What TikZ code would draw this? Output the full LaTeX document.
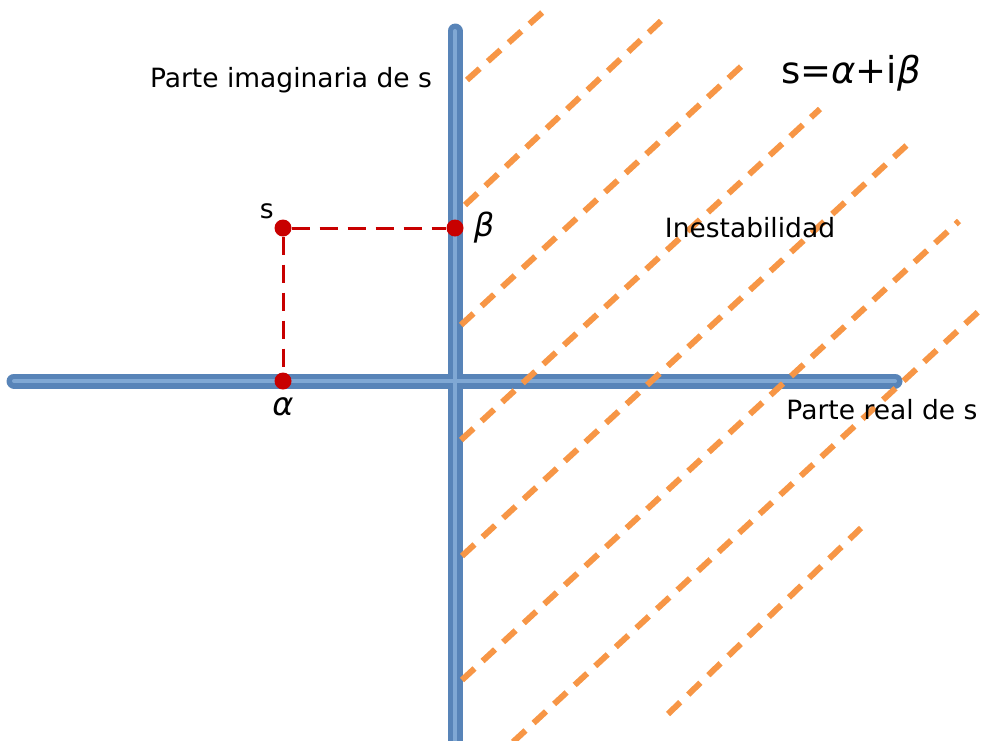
\documentclass[tikz,border=0pt]{standalone}
\usepackage{fontspec}
\setmainfont{DejaVu Sans}
\usepackage{tikz}
\usetikzlibrary{calc,positioning}

\definecolor{axisBlue}{RGB}{88,132,184}
\definecolor{axisLight}{RGB}{128,168,212}
\definecolor{hatchOrange}{RGB}{247,150,70}
\definecolor{pointRed}{RGB}{200,0,0}

\begin{document}
\begin{tikzpicture}[
    x=1pt, y=-1pt,
    % Styles
    axisLine/.style={line width=15pt, axisBlue, line cap=round},
    axisShine/.style={line width=4pt, axisLight, line cap=round},
    hatchLine/.style={line width=6pt, hatchOrange, dash pattern=on 17pt off 11pt},
    guideLine/.style={line width=3pt, pointRed, dash pattern=on 18pt off 10pt},
    dotNode/.style={circle, fill=pointRed, inner sep=0pt, minimum size=17pt},
    labelNode/.style={font=\fontsize{26.5}{30}\selectfont, inner sep=0pt},
    greekNode/.style={font=\fontsize{32}{36}\selectfont\itshape, inner sep=0pt}
]
\useasboundingbox (0,0) rectangle (982,740);

% ================= AXES =================
\coordinate (reLeft) at (14,381);
\coordinate (reRight) at (895,381);
\coordinate (imTop) at (455,31);
\coordinate (imBottom) at (455,748);
\draw[axisLine] (reLeft) -- (reRight);
\draw[axisLine] (imTop) -- (imBottom);
\draw[axisShine] (reLeft) -- (reRight);
\draw[axisShine] (imTop) -- (imBottom);

% ================= UNSTABLE HALF PLANE =================
\foreach \xa/\ya/\xb/\yb in {467/80/545/10, 465/205/661/21, 461/325/746/62,
    461/440/820/109, 462/556/907/145, 462/680/959/221, 513/742/978/312,
    668/714/861/528}
  \draw[hatchLine] (\xa,\ya) -- (\xb,\yb);

% ================= POINT s =================
\node[dotNode] (sPt) at (283,228) {};
\node[dotNode] (betaPt) at (455,228) {};
\node[dotNode] (alphaPt) at (283,381) {};
\draw[guideLine] (sPt) -- (betaPt);
\draw[guideLine] (sPt) -- (alphaPt);

% ================= LABELS =================
\node[labelNode] (imLabel) at (291,80) {Parte imaginaria de s};
\node[labelNode] (reLabel) at (882,410) {Parte real de s};
\node[labelNode] (zoneLabel) at (750,228) {Inestabilidad};
\node[labelNode, font=\fontsize{37}{42}\selectfont] (eqLabel) at (851,73) {s=\textit{α}+i\textit{β}};
\node[labelNode, above left=3pt and 3pt of sPt] (sLabel) {s};
\node[greekNode, right=10pt of betaPt] (betaLabel) {β};
\node[greekNode, below=8pt of alphaPt] (alphaLabel) {α};

\end{tikzpicture}
\end{document}
